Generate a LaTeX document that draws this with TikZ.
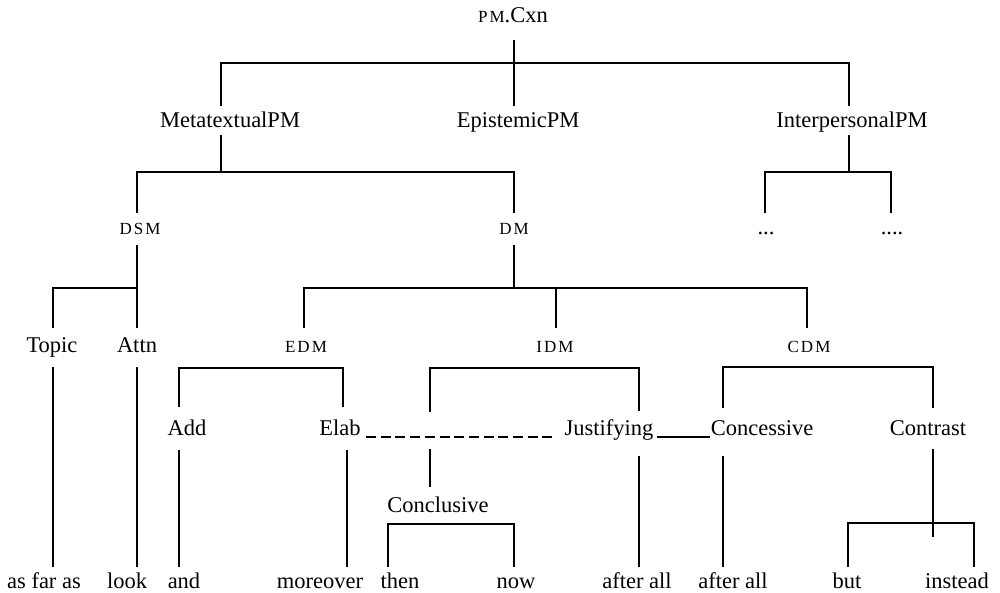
\documentclass[tikz,border=0pt]{standalone}
\usepackage{fontspec}
\setmainfont{Liberation Serif}
\newfontfamily\scfont[LetterSpace=12]{Liberation Serif}
\begin{document}
\begin{tikzpicture}[x=1pt,y=-1pt,
  lbl/.style={inner sep=0pt,anchor=base,font=\fontsize{22.5}{27}\selectfont},
  sclbl/.style={inner sep=0pt,anchor=base,font=\scfont\fontsize{17}{20}\selectfont},
  branch/.style={line width=2pt},
  linkdash/.style={line width=1.2pt,dash pattern=on 10pt off 4.7pt},
  linksolid/.style={line width=1.3pt}]
\useasboundingbox (0,0) rectangle (1000,593);

% ---- labels ----
\node[lbl] (root) at (513,23) {{\scfont\fontsize{17}{20}\selectfont PM}.Cxn};

\node[lbl] (meta)  at (230,128) {MetatextualPM};
\node[lbl] (epi)   at (518,128) {EpistemicPM};
\node[lbl] (inter) at (852,128) {InterpersonalPM};

\node[sclbl] (dsm) at (140,235) {DSM};
\node[sclbl] (dm)  at (514,235) {DM};
\node[lbl] (dotsA) at (766,235) {...};
\node[lbl] (dotsB) at (892,235) {....};

\node[lbl] (topic) at (52,352) {Topic};
\node[lbl] (attn)  at (137,352) {Attn};
\node[sclbl] (edm) at (306,352) {EDM};
\node[sclbl] (idm) at (555,352) {IDM};
\node[sclbl] (cdm) at (809,352) {CDM};

\node[lbl] (add)   at (187,435) {Add};
\node[lbl] (elab)  at (340,435) {Elab};
\node[lbl] (just)  at (609,435) {Justifying};
\node[lbl] (conc)  at (762,435) {Concessive};
\node[lbl] (contr) at (928,435) {Contrast};

\node[lbl] (concl) at (438,512) {Conclusive};

\node[lbl] (asfar)    at (44,588)  {as far as};
\node[lbl] (look)     at (127,588) {look};
\node[lbl] (and)      at (184,588) {and};
\node[lbl] (moreover) at (320,588) {moreover};
\node[lbl] (then)     at (400,588) {then};
\node[lbl] (now)      at (516,588) {now};
\node[lbl] (afterA)   at (637,588) {after all};
\node[lbl] (afterB)   at (733,588) {after all};
\node[lbl] (but)      at (847,588) {but};
\node[lbl] (instead)  at (957,588) {instead};

% ---- stem ends and junctions ----
\coordinate (root-dn)  at (514,40);
\coordinate (root-bar) at (514,63);
\coordinate (meta-up)  at (221,106);
\coordinate (epi-up)   at (514,106);
\coordinate (inter-up) at (849,106);

\coordinate (meta-dn)  at (221,135);
\coordinate (meta-bar) at (221,172);
\coordinate (dsm-up)   at (137,213);
\coordinate (dm-up)    at (514,213);

\coordinate (inter-dn)  at (849,135);
\coordinate (inter-bar) at (849,172);
\coordinate (dotsA-up)  at (765,213);
\coordinate (dotsB-up)  at (891,213);

\coordinate (dsm-dn)   at (137,245);
\coordinate (dsm-bar)  at (137,288);
\coordinate (topic-up) at (53,328);
\coordinate (attn-up)  at (137,328);

\coordinate (dm-dn)    at (514,245);
\coordinate (dm-bar)   at (514,288);
\coordinate (edm-up)   at (304,328);
\coordinate (idm-up)   at (556,328);
\coordinate (cdm-up)   at (807,328);

\coordinate (topic-dn) at (53,367);
\coordinate (asfar-up) at (53,567);
\coordinate (attn-dn)  at (137,367);
\coordinate (look-up)  at (137,567);

\coordinate (edm-bar)  at (306,368);
\coordinate (add-up)   at (179,407);
\coordinate (elab-up)  at (343,407);

\coordinate (idm-bar)   at (556,368);
\coordinate (idm-left)  at (430,412);
\coordinate (just-up)   at (639,411);
\coordinate (concl-top) at (430,449);
\coordinate (concl-up)  at (430,487);

\coordinate (cdm-bar)  at (809,367);
\coordinate (conc-up)  at (723,408);
\coordinate (contr-up) at (933,408);

\coordinate (add-dn)      at (179,450);
\coordinate (and-up)      at (179,567);
\coordinate (elab-dn)     at (347,450);
\coordinate (moreover-up) at (347,567);

\coordinate (concl-bar) at (438,524);
\coordinate (then-up)   at (388,567);
\coordinate (now-up)    at (514,567);

\coordinate (just-dn)   at (639,456);
\coordinate (afterA-up) at (639,567);
\coordinate (conc-dn)   at (723,456);
\coordinate (afterB-up) at (723,567);

\coordinate (contr-dn)   at (933,449);
\coordinate (contr-bar)  at (933,523);
\coordinate (contr-end)  at (933,537);
\coordinate (but-up)     at (848,567);
\coordinate (instead-up) at (974,567);

\coordinate (elab-link)  at (366,437);
\coordinate (just-link)  at (552,437);
\coordinate (just-tail)  at (657,437);
\coordinate (conc-head)  at (710,437);

% ---- branches ----
\draw[branch] (root-dn) -- (epi-up);
\draw[branch] (meta-up) |- (root-bar) -| (inter-up);

\draw[branch] (meta-dn) -- (meta-bar);
\draw[branch] (dsm-up) |- (meta-bar) -| (dm-up);

\draw[branch] (inter-dn) -- (inter-bar);
\draw[branch] (dotsA-up) |- (inter-bar) -| (dotsB-up);

\draw[branch] (dsm-dn) -- (attn-up);
\draw[branch] (topic-up) |- (dsm-bar);

\draw[branch] (dm-dn) -- (dm-bar);
\draw[branch] (edm-up) |- (dm-bar) -| (cdm-up);
\draw[branch] (idm-up) -- (idm-up |- dm-bar);

\draw[branch] (topic-dn) -- (asfar-up);
\draw[branch] (attn-dn) -- (look-up);

\draw[branch] (add-up) |- (edm-bar) -| (elab-up);
\draw[branch] (idm-left) |- (idm-bar) -| (just-up);
\draw[branch] (conc-up) |- (cdm-bar) -| (contr-up);

\draw[branch] (add-dn) -- (and-up);
\draw[branch] (elab-dn) -- (moreover-up);
\draw[branch] (concl-top) -- (concl-up);
\draw[branch] (then-up) |- (concl-bar) -| (now-up);
\draw[branch] (just-dn) -- (afterA-up);
\draw[branch] (conc-dn) -- (afterB-up);
\draw[branch] (contr-dn) -- (contr-end);
\draw[branch] (but-up) |- (contr-bar) -| (instead-up);

% ---- links between sibling categories ----
\draw[linkdash] (elab-link) -- (just-link);
\draw[linksolid] (just-tail) -- (conc-head);
\end{tikzpicture}
\end{document}
